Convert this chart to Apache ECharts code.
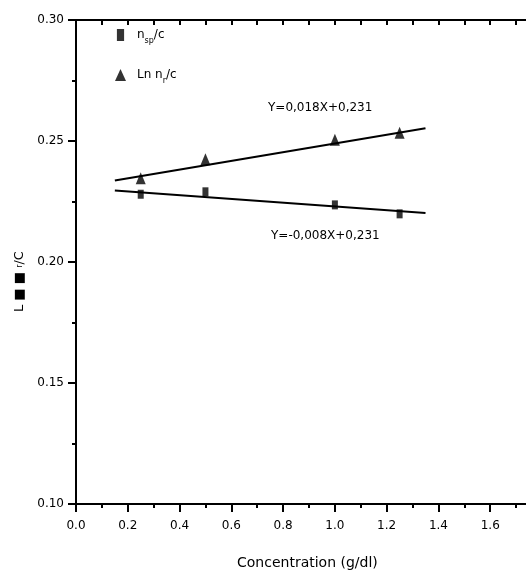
<!DOCTYPE html>
<html>
<head>
<meta charset="utf-8">
<script src="https://cdn.jsdelivr.net/npm/echarts@6/dist/echarts.min.js"></script>
<style>
html,body{margin:0;padding:0;background:#fff;}
#chart{width:526px;height:573px;}
</style>
</head>
<body>
<div id="chart"></div>
<script>
// Data
var concentration = [0.25, 0.5, 1.0, 1.25];
var spValues = [0.228, 0.229, 0.2236, 0.2199];      // n_sp/c (squares)
var lnValues = [0.2346, 0.2425, 0.2505, 0.2534];    // Ln n_r/c (triangles)
var fitX = [0.15, 1.35];
var fitSp = [0.2295, 0.2202];
var fitLn = [0.2337, 0.2553];
var eqLn = 'Y=0,018X+0,231';
var eqSp = 'Y=-0,008X+0,231';
var xTitle = 'Concentration (g/dl)';

function pairs(xs, ys) { return xs.map(function (x, i) { return [x, ys[i]]; }); }

var font = 'DejaVu Sans';
var chart = echarts.init(document.getElementById('chart'));
var option = {
  animation: false,
  backgroundColor: '#fff',
  grid: { left: 76, top: 20, bottom: 69, right: -16, containLabel: false, outerBoundsMode: 'none' },
  legend: {
    orient: 'vertical', left: 110, top: 24, itemGap: 24,
    itemWidth: 11, itemHeight: 12,
    data: [
      { name: 'sp', icon: 'path://M0,0H6V10H0Z' },
      { name: 'ln', icon: 'triangle' }
    ],
    formatter: function (n) {
      return n === 'sp' ? '{t|n}{s|sp}{t|/c}' : '{t|Ln n}{s|r}{t|/c}';
    },
    textStyle: {
      color: '#000', fontFamily: font, padding: [0, 0, 0, 6],
      rich: {
        t: { fontSize: 12, fontFamily: font, color: '#000' },
        s: { fontSize: 8, fontFamily: font, color: '#000', padding: [12, 0, 0, 0] }
      }
    }
  },
  xAxis: [{
    type: 'value', min: 0, max: 1.8, interval: 0.2, position: 'bottom',
    axisLine: { show: true, onZero: false, lineStyle: { color: '#000', width: 2 } },
    axisTick: { show: true, inside: false, length: 8, lineStyle: { color: '#000', width: 2 } },
    minorTick: { show: true, splitNumber: 2, length: 4, lineStyle: { color: '#000', width: 2 } },
    splitLine: { show: false },
    axisLabel: { color: '#000', fontFamily: font, fontSize: 12, margin: 16,
      formatter: function (v) { return v.toFixed(1); } }
  }, {
    type: 'value', min: 0, max: 1.8, interval: 0.1, position: 'top',
    axisLine: { show: true, onZero: false, lineStyle: { color: '#000', width: 2 } },
    axisTick: { show: true, inside: true, length: 5, lineStyle: { color: '#000', width: 2 } },
    splitLine: { show: false },
    axisLabel: { show: false }
  }],
  yAxis: {
    type: 'value', min: 0.10, max: 0.30, interval: 0.05,
    axisLine: { show: true, onZero: false, lineStyle: { color: '#000', width: 2 } },
    axisTick: { show: true, inside: false, length: 8, lineStyle: { color: '#000', width: 2 } },
    minorTick: { show: true, splitNumber: 2, length: 4, lineStyle: { color: '#000', width: 2 } },
    splitLine: { show: false },
    axisLabel: { color: '#000', fontFamily: font, fontSize: 12, margin: 12,
      formatter: function (v) { return v.toFixed(2); } }
  },
  series: [{
    name: 'sp', type: 'scatter', data: pairs(concentration, spValues),
    symbol: 'rect', symbolSize: [6, 9], itemStyle: { color: '#000' }
  }, {
    name: 'ln', type: 'scatter', data: pairs(concentration, lnValues),
    symbol: 'triangle', symbolSize: [10, 12], itemStyle: { color: '#000' }
  }, {
    name: 'fitSp', type: 'line', data: pairs(fitX, fitSp), showSymbol: false, symbol: 'none',
    lineStyle: { color: '#000', width: 2 }
  }, {
    name: 'fitLn', type: 'line', data: pairs(fitX, fitLn), showSymbol: false, symbol: 'none',
    lineStyle: { color: '#000', width: 2 }
  }],
  graphic: [{
    type: 'text', left: 268, top: 102,
    style: { text: eqLn, fill: '#000', font: '12px "DejaVu Sans"' }
  }, {
    type: 'text', left: 271, top: 230,
    style: { text: eqSp, fill: '#000', font: '12px "DejaVu Sans"' }
  }, {
    type: 'text', left: 237, top: 556,
    style: { text: xTitle, fill: '#000', font: '14px "DejaVu Sans"' }
  }, {
    type: 'text', x: 13, y: 312, rotation: Math.PI / 2,
    style: {
      text: '{t|L}{t| ■ ■ }{s|r}{t|/C}', fill: '#000',
      rich: {
        t: { fontSize: 13, fontFamily: font, fill: '#000' },
        s: { fontSize: 8, fontFamily: font, fill: '#000' }
      }
    }
  }]
};
chart.setOption(option);
</script>
</body>
</html>
